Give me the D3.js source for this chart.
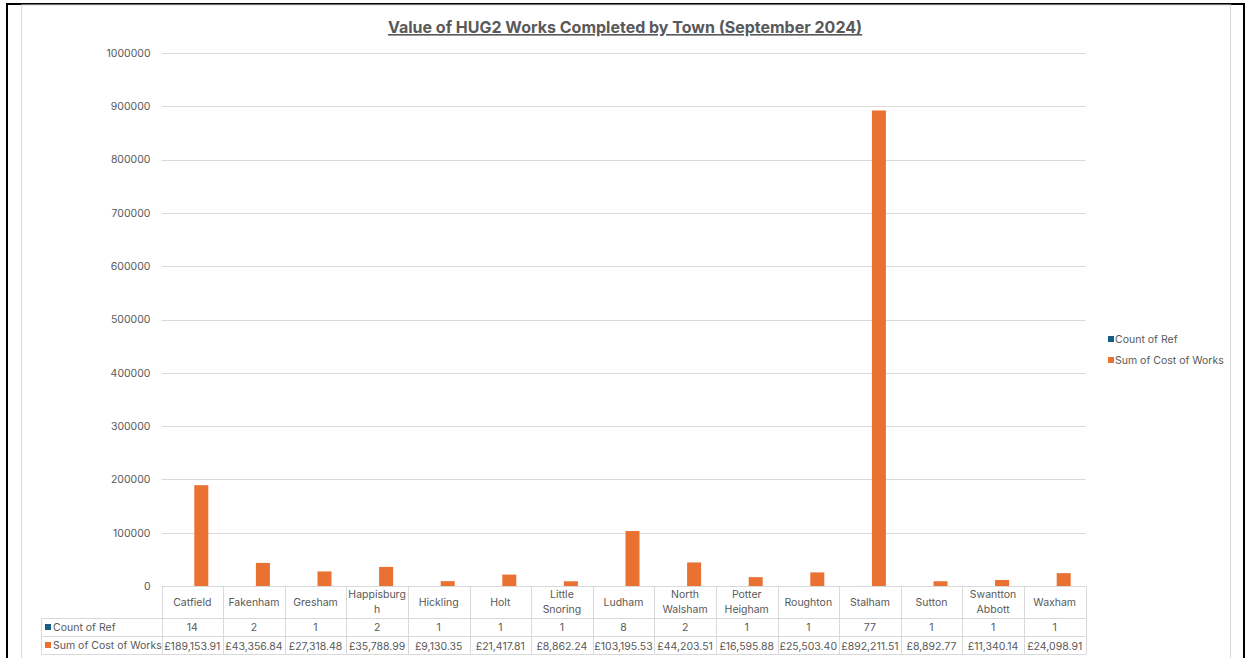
<!DOCTYPE html>
<html>
<head>
  <title>HUG2 Works by Town</title>
  <script src="https://d3js.org/d3.v7.min.js"></script>
  <style>
    body { margin: 0; background: #fff; }
    text { font-family: "Inter", "Liberation Sans", sans-serif; fill: #595959; }
  </style>
</head>
<body>
<script type="text/javascript">
  // data
  var towns = ["Catfield", "Fakenham", "Gresham", "Happisburgh", "Hickling", "Holt",
    "Little Snoring", "Ludham", "North Walsham", "Potter Heigham", "Roughton",
    "Stalham", "Sutton", "Swantton Abbott", "Waxham"];
  var countRef = [14, 2, 1, 2, 1, 1, 1, 8, 2, 1, 1, 77, 1, 1, 1];
  var costWorks = [189153.91, 43356.84, 27318.48, 35788.99, 9130.35, 21417.81, 8862.24,
    103195.53, 44203.51, 16595.88, 25503.40, 892211.51, 8892.77, 11340.14, 24098.91];
  var seriesNames = ["Count of Ref", "Sum of Cost of Works"];
  var seriesColors = ["#156082", "#E97132"];
  var yTicks = [0, 100000, 200000, 300000, 400000, 500000, 600000, 700000, 800000, 900000, 1000000];

  var w = 1248;
  var h = 658;
  var plotLeft = 161.5, plotRight = 1085.5, plotTop = 53, plotBottom = 586;

  var svg = d3.select("body").append("svg")
    .attr("width", w)
    .attr("height", h);

  // frame
  svg.append("rect").attr("x", 7).attr("y", 4).attr("width", 1237).attr("height", 660)
    .attr("fill", "none").attr("stroke", "#000").attr("stroke-width", 2);
  svg.append("rect").attr("x", 21.5).attr("y", 5).attr("width", 1209).attr("height", 660)
    .attr("fill", "none").attr("stroke", "#d9d9d9").attr("stroke-width", 1);

  // title
  svg.append("text")
    .attr("x", 625).attr("y", 33)
    .attr("text-anchor", "middle")
    .attr("font-size", 16).attr("font-weight", "bold")
    .attr("text-decoration", "underline")
    .text("Value of HUG2 Works Completed by Town (September 2024)");

  var x = d3.scaleBand().domain(towns).range([plotLeft, plotRight]);
  var cw = x.bandwidth();
  var x1 = d3.scaleBand().domain(seriesNames).range([cw / 2 - 14, cw / 2 + 16]).paddingInner(0.125);
  var y = d3.scaleLinear().domain([0, 1000000]).range([plotBottom, plotTop]);

  // gridlines
  svg.append("g").selectAll("line")
    .data(yTicks.slice(1))
    .enter().append("line")
    .attr("x1", plotLeft).attr("x2", plotRight)
    .attr("y1", function(d){ return Math.round(y(d)) + 0.5; })
    .attr("y2", function(d){ return Math.round(y(d)) + 0.5; })
    .attr("stroke", "#d9d9d9");

  // y axis labels
  var yAxis = d3.axisLeft(y).tickValues(yTicks).tickFormat(d3.format("d")).tickSize(0).tickPadding(11);
  var ga = svg.append("g").attr("transform", "translate(" + plotLeft + ",0)").call(yAxis);
  ga.select(".domain").remove();
  ga.selectAll("text").attr("font-size", 10.5).attr("fill", "#595959")
    .style("font-family", '"Inter", "Liberation Sans", sans-serif');

  // bars
  var rows = towns.map(function(t, i){ return { town: t, values: [countRef[i], costWorks[i]] }; });
  svg.append("g").selectAll("g")
    .data(rows)
    .enter().append("g")
    .attr("transform", function(d){ return "translate(" + x(d.town) + ",0)"; })
    .selectAll("rect")
    .data(function(d){ return d.values.map(function(v, k){ return { s: seriesNames[k], v: v, c: seriesColors[k] }; }); })
    .enter().append("rect")
    .attr("x", function(d){ return x1(d.s); })
    .attr("width", x1.bandwidth())
    .attr("y", function(d){ return y(d.v); })
    .attr("height", function(d){ return plotBottom - y(d.v); })
    .attr("fill", function(d){ return d.c; });

  // data table
  var tLeft = 41.5, r1 = 618.5, r2 = 636.5, r3 = 654.5;
  var grid = svg.append("g").attr("stroke", "#d9d9d9").attr("fill", "none");
  grid.append("line").attr("x1", plotLeft).attr("x2", plotRight).attr("y1", plotBottom + 0.5).attr("y2", plotBottom + 0.5);
  [r1, r2, r3].forEach(function(yy){
    grid.append("line").attr("x1", tLeft).attr("x2", plotRight).attr("y1", yy).attr("y2", yy);
  });
  grid.append("line").attr("x1", tLeft).attr("x2", tLeft).attr("y1", r1).attr("y2", r3);
  towns.concat([null]).forEach(function(t, i){
    var xx = Math.round(plotLeft + i * cw) + 0.5;
    grid.append("line").attr("x1", xx).attr("x2", xx).attr("y1", plotBottom).attr("y2", r3);
  });

  // category labels with wrapping
  var cats = svg.append("g").attr("font-size", 10.5).attr("text-anchor", "middle");
  towns.forEach(function(t){
    var cx = x(t) + cw / 2;
    var probe = cats.append("text").text(t);
    var lines = [t];
    if (probe.node().getComputedTextLength() > cw - 2) {
      if (t.indexOf(" ") > 0) {
        lines = t.split(" ");
      } else {
        var k = t.length;
        while (k > 1) {
          probe.text(t.slice(0, k));
          if (probe.node().getComputedTextLength() <= cw - 2) break;
          k--;
        }
        lines = [t.slice(0, k), t.slice(k)];
      }
    }
    probe.remove();
    lines.forEach(function(l, j){
      cats.append("text")
        .attr("x", cx)
        .attr("y", (lines.length == 1 ? 606 : 598 + j * 15))
        .text(l);
    });
  });

  var fmtCost = d3.format(",.2f");
  var vals = svg.append("g").attr("font-size", 10.5).attr("text-anchor", "middle");
  towns.forEach(function(t, i){
    vals.append("text").attr("x", x(t) + cw / 2).attr("y", 631).text(countRef[i]);
    vals.append("text").attr("x", x(t) + cw / 2).attr("y", 649.5).text("£" + fmtCost(costWorks[i]));
  });

  // row headers
  seriesNames.forEach(function(s, k){
    var yy = k == 0 ? 627.5 : 645.5;
    svg.append("rect").attr("x", 45).attr("y", yy - 3.5).attr("width", 6).attr("height", 6).attr("fill", seriesColors[k]);
    svg.append("text").attr("x", 53).attr("y", yy + 3.5).attr("font-size", 10.5).text(s);
  });

  // legend
  var lg = svg.append("g").attr("transform", "translate(1108,0)");
  seriesNames.forEach(function(s, k){
    var yy = 339 + k * 21;
    lg.append("rect").attr("x", 0).attr("y", yy - 3).attr("width", 6).attr("height", 6).attr("fill", seriesColors[k]);
    lg.append("text").attr("x", 7).attr("y", yy + 3.5).attr("font-size", 10.5).text(s);
  });
</script>
</body>
</html>
